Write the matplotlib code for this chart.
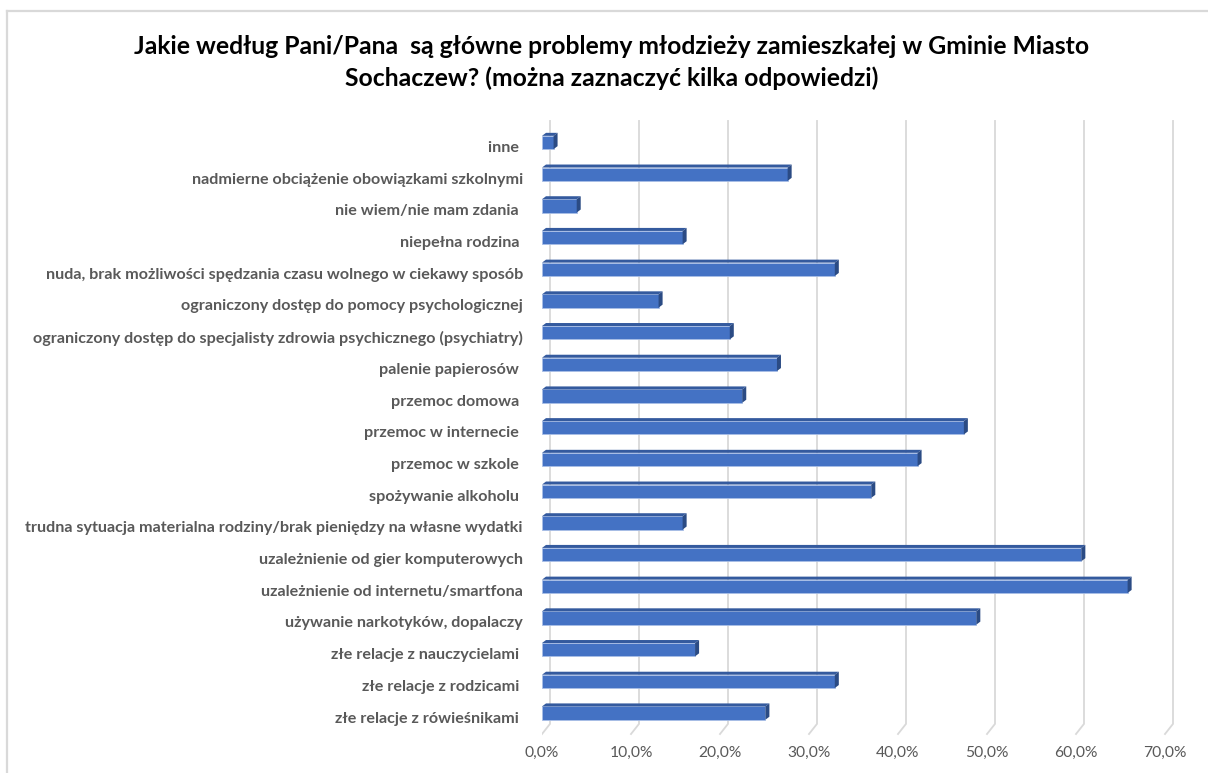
import matplotlib
matplotlib.use("Agg")
import matplotlib.pyplot as plt
from matplotlib.patches import Polygon
from matplotlib.lines import Line2D
from matplotlib.transforms import ScaledTranslation

# Survey answers (share of respondents, %)
categories = [
    "inne ",
    "nadmierne obciążenie obowiązkami szkolnymi",
    "nie wiem/nie mam zdania ",
    "niepełna rodzina ",
    "nuda, brak możliwości spędzania czasu wolnego w ciekawy sposób",
    "ograniczony dostęp do pomocy psychologicznej",
    "ograniczony dostęp do specjalisty zdrowia psychicznego (psychiatry)",
    "palenie papierosów ",
    "przemoc domowa ",
    "przemoc w internecie ",
    "przemoc w szkole ",
    "spożywanie alkoholu ",
    "trudna sytuacja materialna rodziny/brak pieniędzy na własne wydatki",
    "uzależnienie od gier komputerowych",
    "uzależnienie od internetu/smartfona",
    "używanie narkotyków, dopalaczy",
    "złe relacje z nauczycielami ",
    "złe relacje z rodzicami ",
    "złe relacje z rówieśnikami ",
]
values = [1.3, 27.6, 3.9, 15.8, 32.9, 13.1, 21.1, 26.4, 22.5, 47.4,
          42.2, 37.0, 15.8, 60.6, 65.8, 48.8, 17.2, 32.9, 25.1]
tick_values = [0, 10, 20, 30, 40, 50, 60, 70]
tick_labels = ["0,0%", "10,0%", "20,0%", "30,0%", "40,0%", "50,0%", "60,0%", "70,0%"]
title_lines = [
    "Jakie według Pani/Pana  są główne problemy młodzieży zamieszkałej w Gminie Miasto",
    "Sochaczew? (można zaznaczyć kilka odpowiedzi)",
]

FONT = "Lato"
FRONT = "#4472C4"
TOP = "#345A9E"
SIDE = "#2B4B84"
EDGE = "#A9BEE6"
GRID = "#D9D9D9"
TEXT = "#595959"

W, H = 1208, 773
fig = plt.figure(figsize=(W / 100, H / 100), dpi=100)
fig.patch.set_facecolor("white")
renderer = fig.canvas.get_renderer()


def fit_size(text, target_px, weight="normal", base=10.0):
    t = fig.text(0, 0, text, fontsize=base, fontfamily=FONT, fontweight=weight)
    w = t.get_window_extent(renderer).width
    t.remove()
    return base * target_px / w


# Outer chart frame
fig.add_artist(Line2D([7.5 / W, 1.0], [1 - 10.5 / H, 1 - 10.5 / H],
                      transform=fig.transFigure, color=GRID, lw=1.6))
fig.add_artist(Line2D([7.5 / W, 7.5 / W], [0.0, 1 - 10.5 / H],
                      transform=fig.transFigure, color=GRID, lw=1.6))

# Title
title_size = fit_size(title_lines[0], 954, weight="bold")
for i, line in enumerate(title_lines):
    fig.text(612 / W, 1 - (47 + 31 * i) / H, line, ha="center", va="center",
             fontsize=title_size, fontweight="bold", fontfamily=FONT, color="#000000")

# Plot area: 8.9 px per percent, 31.7 px per category row
ax = fig.add_axes([542 / W, 1 - 740 / H, 640.8 / W, 628 / H])
ax.set_xlim(0, 72)
ax.set_ylim(18.849, -0.962)
for s in ax.spines.values():
    s.set_visible(False)
ax.set_facecolor("none")

# Back wall gridlines with floor diagonals
wall_dx, floor_front, floor_back, wall_top = 0.9, 18.66, 18.34, -0.68
for t in tick_values:
    ax.plot([t, t + wall_dx, t + wall_dx], [floor_front, floor_back, wall_top],
            color=GRID, lw=1.3, zorder=0, solid_joinstyle="miter")

# 3D-looking bars: front face, top face and right side face
ypos = list(range(len(categories)))
bar_h = 0.42
depth_x, depth_y = 0.45, 0.095
ax.barh(ypos, values, height=bar_h, color=FRONT, edgecolor=EDGE, linewidth=0.6, zorder=3)
for y, v in zip(ypos, values):
    top = y - bar_h / 2
    bottom = y + bar_h / 2
    ax.add_patch(Polygon([(0, top), (v, top), (v + depth_x, top - depth_y),
                          (depth_x, top - depth_y)], closed=True,
                         facecolor=TOP, edgecolor="none", zorder=4))
    ax.add_patch(Polygon([(v, top), (v, bottom), (v + depth_x, bottom - depth_y),
                          (v + depth_x, top - depth_y)], closed=True,
                         facecolor=SIDE, edgecolor="none", zorder=4))

# Category labels
label_size = fit_size(categories[12], 500, weight="bold")
ax.set_yticks(ypos)
ax.set_yticklabels(categories, fontsize=label_size, fontweight="bold",
                   fontfamily=FONT, color=TEXT)
ax.tick_params(axis="y", length=0, pad=13.7)
shift = ScaledTranslation(0, -4 / 100, fig.dpi_scale_trans)
for lbl in ax.get_yticklabels():
    lbl.set_transform(lbl.get_transform() + shift)

# Value axis labels
tick_size = fit_size(tick_labels[-1], 43)
ax.set_xticks(tick_values)
ax.set_xticklabels(tick_labels, fontsize=tick_size, fontfamily=FONT, color=TEXT)
ax.tick_params(axis="x", length=0, pad=4.5)

fig.savefig("out.png", dpi=100, facecolor="white")
